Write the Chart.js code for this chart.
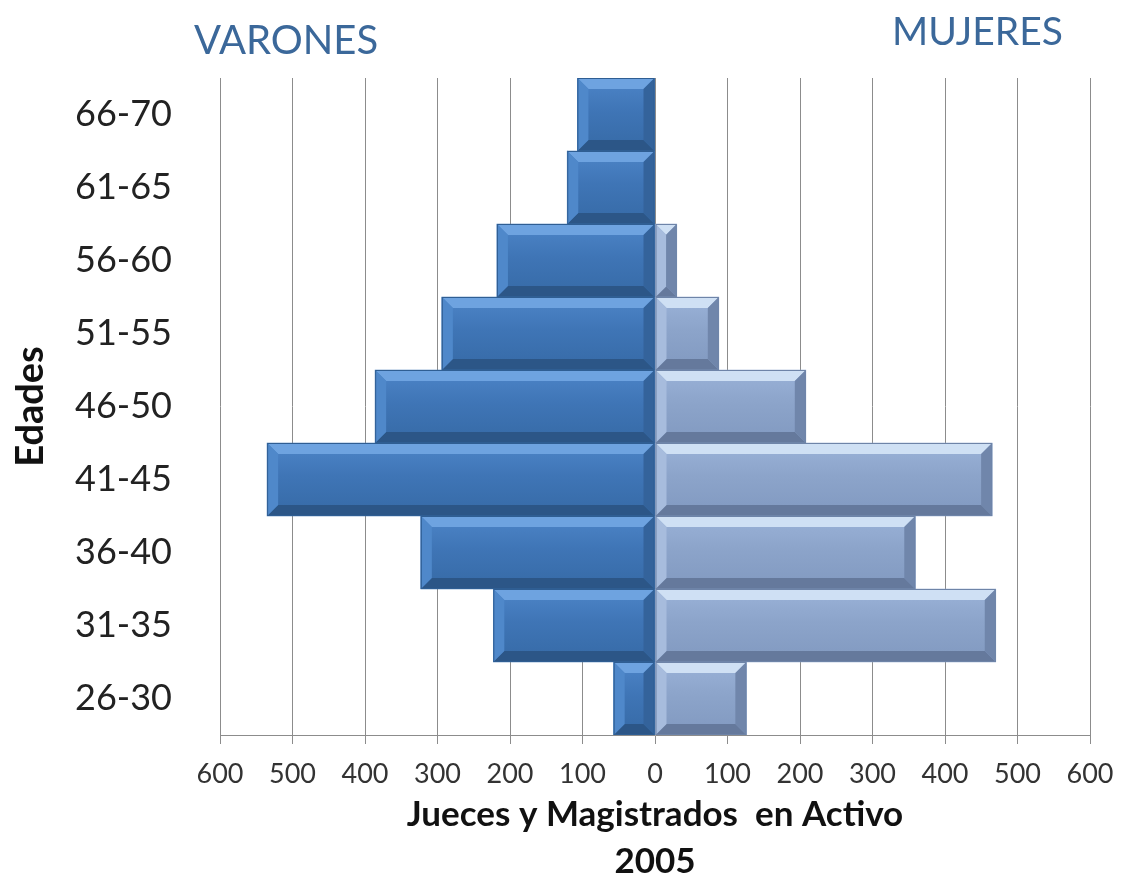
<!DOCTYPE html>
<html>
<head>
<meta charset="utf-8">
<script src="https://cdn.jsdelivr.net/npm/chart.js@4"></script>
<style>
  html, body { margin: 0; padding: 0; background: #fff; }
  #wrap { position: relative; width: 1125px; height: 888px; }
  .side { position: absolute; font-family: Lato, "Open Sans", sans-serif; font-size: 39px; color: #3b689a; line-height: 1; }
</style>
</head>
<body>
<div id="wrap">
  <canvas id="chart" width="1125" height="888"></canvas>
  <div class="side" style="left:194px; top:19px; font-size:40px;">VARONES</div>
  <div class="side" style="left:892px; top:11px;">MUJERES</div>
</div>
<script>
// datos
const edades = ["66-70", "61-65", "56-60", "51-55", "46-50", "41-45", "36-40", "31-35", "26-30"];
const varones = [107, 121, 218, 294, 386, 535, 323, 223, 57];
const mujeres = [0, 0, 30, 88, 208, 465, 359, 470, 126];
const xTicks = [-600, -500, -400, -300, -200, -100, 0, 100, 200, 300, 400, 500, 600];

const FONT = "Lato, 'Open Sans', sans-serif";

// bisel de las barras
const bevelPlugin = {
  id: "bevel",
  afterDatasetsDraw(chart) {
    const ctx = chart.ctx;
    chart.data.datasets.forEach((ds, di) => {
      const meta = chart.getDatasetMeta(di);
      meta.data.forEach((bar) => {
        const p = bar.getProps(["x", "y", "base", "height"], true);
        const left = Math.min(p.x, p.base);
        const right = Math.max(p.x, p.base);
        const top = p.y - p.height / 2;
        const bottom = p.y + p.height / 2;
        if (right - left < 1) return;
        const b = Math.min(11, (right - left) / 2);
        const c = ds.bevel;
        ctx.save();
        // cuerpo con degradado
        const g = ctx.createLinearGradient(0, top, 0, bottom);
        g.addColorStop(0, c.light);
        g.addColorStop(0.45, c.mid);
        g.addColorStop(1, c.dark);
        ctx.fillStyle = g;
        ctx.fillRect(left, top, right - left, bottom - top);
        // arriba
        ctx.fillStyle = c.top;
        ctx.beginPath();
        ctx.moveTo(left, top); ctx.lineTo(right, top);
        ctx.lineTo(right - b, top + b); ctx.lineTo(left + b, top + b);
        ctx.fill();
        // abajo
        ctx.fillStyle = c.bottom;
        ctx.beginPath();
        ctx.moveTo(left, bottom); ctx.lineTo(right, bottom);
        ctx.lineTo(right - b, bottom - b); ctx.lineTo(left + b, bottom - b);
        ctx.fill();
        // izquierda
        ctx.fillStyle = c.left;
        ctx.beginPath();
        ctx.moveTo(left, top); ctx.lineTo(left + b, top + b);
        ctx.lineTo(left + b, bottom - b); ctx.lineTo(left, bottom);
        ctx.fill();
        // derecha
        ctx.fillStyle = c.right;
        ctx.beginPath();
        ctx.moveTo(right, top); ctx.lineTo(right - b, top + b);
        ctx.lineTo(right - b, bottom - b); ctx.lineTo(right, bottom);
        ctx.fill();
        ctx.strokeStyle = c.border;
        ctx.lineWidth = 1;
        ctx.strokeRect(left + 0.5, top + 0.5, right - left - 1, bottom - top - 1);
        ctx.restore();
      });
    });
  },
};

const ctx = document.getElementById("chart");
new Chart(ctx, {
  type: "bar",
  data: {
    labels: edades,
    datasets: [
      {
        label: "Varones",
        data: varones.map((v) => -v),
        backgroundColor: "#3f74b3",
        borderWidth: 0,
        barPercentage: 1,
        categoryPercentage: 1,
        bevel: {
          light: "#4d85c8", mid: "#3f75b6", dark: "#366aa6",
          top: "#6ea3e0", bottom: "#2c5687", left: "#4f88ca", right: "#34639b", border: "#2f5e93",
        },
      },
      {
        label: "Mujeres",
        data: mujeres,
        backgroundColor: "#8ba3c9",
        borderWidth: 0,
        barPercentage: 1,
        categoryPercentage: 1,
        bevel: {
          light: "#9ab2d8", mid: "#8ca4ca", dark: "#8199c0",
          top: "#cfe0f4", bottom: "#65799c", left: "#a7bcdd", right: "#7086ab", border: "#6e84a8",
        },
      },
    ],
  },
  options: {
    indexAxis: "y",
    responsive: false,
    animation: false,
    layout: { padding: { top: 78, right: 35, left: 0, bottom: 0 } },
    plugins: {
      legend: { display: false },
      tooltip: { enabled: false },
    },
    scales: {
      x: {
        stacked: true,
        min: -600,
        max: 600,
        afterBuildTicks: (scale) => {
          scale.ticks = xTicks.map((v) => ({ value: v }));
        },
        afterFit: (scale) => {
          scale.height = 153;
          scale.paddingRight = 0;
        },
        grid: { color: "#8c8c8c", lineWidth: 1, tickLength: 9, drawOnChartArea: true },
        border: { color: "#8c8c8c" },
        ticks: {
          color: "#333",
          padding: 14,
          maxRotation: 0,
          font: { family: FONT, size: 27 },
          callback: (value) => Math.abs(value),
        },
        title: {
          display: true,
          text: ["Jueces y Magistrados  en Activo", "2005"],
          color: "#111",
          font: { family: FONT, size: 35, weight: "bold", lineHeight: 1.36 },
          padding: { top: 4, bottom: 2 },
        },
      },
      y: {
        stacked: true,
        afterFit: (scale) => { scale.width = 220; },
        grid: { display: false },
        border: { display: false },
        ticks: {
          color: "#222",
          padding: 40,
          font: { family: FONT, size: 36 },
        },
        title: {
          display: true,
          text: "Edades",
          color: "#111",
          font: { family: FONT, size: 38, weight: "bold" },
          padding: { top: 8, bottom: 0 },
        },
      },
    },
  },
  plugins: [bevelPlugin],
});
</script>
</body>
</html>
